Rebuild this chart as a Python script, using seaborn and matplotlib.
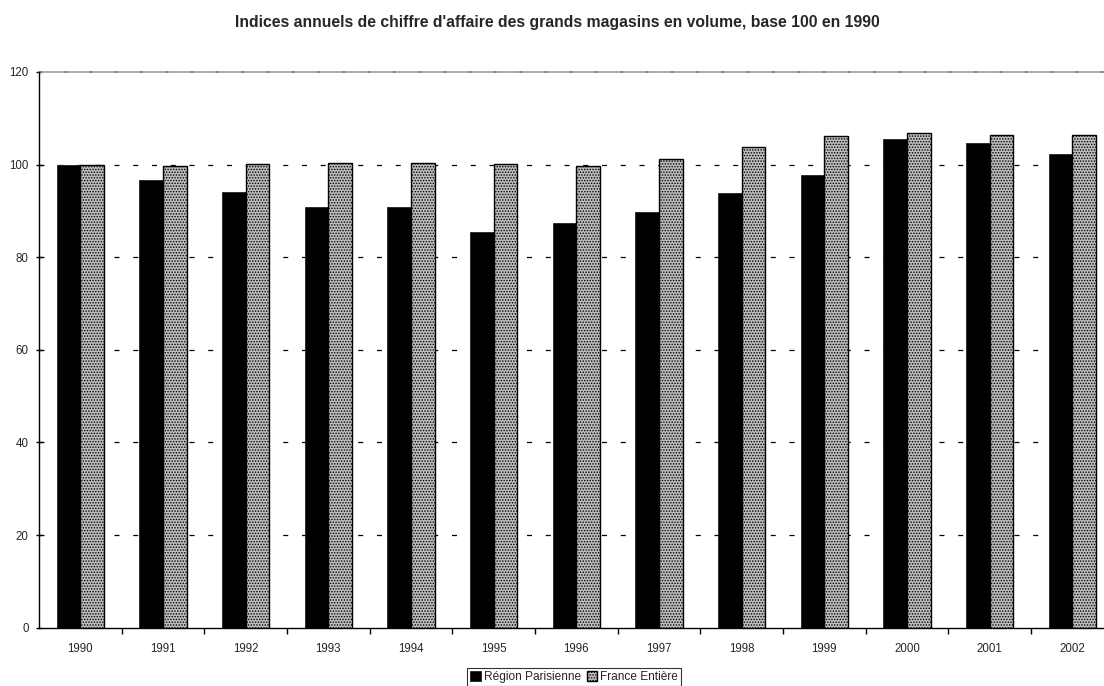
import matplotlib
matplotlib.use("Agg")
import matplotlib.pyplot as plt
import seaborn as sns
import pandas as pd
import numpy as np

# Annual department-store sales indices (volume), base 100 in 1990
annees = ["1990", "1991", "1992", "1993", "1994", "1995", "1996",
          "1997", "1998", "1999", "2000", "2001", "2002"]
region_parisienne = [100.0, 96.6, 94.1, 90.8, 90.8, 85.5, 87.3,
                     89.8, 93.9, 97.8, 105.5, 104.7, 102.3]
france_entiere = [100.0, 99.7, 100.2, 100.3, 100.4, 100.1, 99.8,
                  101.3, 103.7, 106.2, 106.8, 106.4, 106.3]
series = ["Région Parisienne", "France Entière"]
y_ticks = [0, 20, 40, 60, 80, 100, 120]

df = pd.DataFrame({
    "annee": annees * 2,
    "indice": region_parisienne + france_entiere,
    "serie": [series[0]] * len(annees) + [series[1]] * len(annees),
})

sns.set_style("ticks")
plt.rcParams["font.family"] = ["Liberation Sans", "DejaVu Sans"]
plt.rcParams["hatch.color"] = "black"
plt.rcParams["hatch.linewidth"] = 0.7

fig = plt.figure(figsize=(11.04, 6.86), dpi=100)
# plot area runs slightly past the right edge of the figure
ax = fig.add_axes([39 / 1104, 1 - 627.7 / 686, 1074.6 / 1104, 555.7 / 686])

sns.barplot(data=df, x="annee", y="indice", hue="serie", order=annees,
            hue_order=series, palette=["black", "#bdbdbd"], width=0.57,
            saturation=1, dodge=True, legend=False, ax=ax, zorder=3)

# style each series
for patch in ax.containers[0]:
    patch.set_edgecolor("#222222")
    patch.set_linewidth(0.6)
for patch in ax.containers[1]:
    patch.set_facecolor("#bdbdbd")
    patch.set_edgecolor("black")
    patch.set_linewidth(1.0)
    patch.set_hatch("......")

ax.set_ylim(0, 120)
ax.set_xlim(-0.5, len(annees) - 0.5)
ax.set_yticks(y_ticks)
ax.set_yticklabels([str(v) for v in y_ticks], fontsize=8.3)
ax.set_xlabel("")
ax.set_ylabel("")

# horizontal gridlines
ax.set_axisbelow(True)
for v in y_ticks[1:-1]:
    ax.axhline(v, color="black", lw=0.9, linestyle=(0, (4, 11)), zorder=1)
ax.axhline(y_ticks[-1], color="#a5a5a5", lw=1.3, zorder=1, clip_on=False)
ax.axhline(y_ticks[-1], color="#808080", lw=1.3, linestyle=(0, (1.5, 12.5)),
           zorder=1, clip_on=False)

# category ticks on the boundaries, labels centred under the groups
ax.set_xticks(np.arange(len(annees)))
ax.set_xticklabels(annees, fontsize=8.3)
ax.set_xticks(np.arange(len(annees)) + 0.5, minor=True)
ax.tick_params(axis="x", which="major", length=0, pad=11)
ax.tick_params(axis="x", which="minor", length=4, width=1, color="black",
               direction="out")
ax.tick_params(axis="y", length=5, width=1, color="black", direction="inout",
               pad=5)

for side in ("top", "right"):
    ax.spines[side].set_visible(False)
for side in ("left", "bottom"):
    ax.spines[side].set_color("black")
    ax.spines[side].set_linewidth(1.0)

fig.text(557 / 1104, 1 - 22 / 686,
         "Indices annuels de chiffre d'affaire des grands magasins en volume, base 100 en 1990",
         ha="center", va="center", fontsize=11.3, fontweight="bold")

leg = fig.legend(handles=[ax.containers[0][0], ax.containers[1][0]],
                 labels=series, loc="upper center",
                 bbox_to_anchor=(574 / 1104, 1 - 668 / 686), ncol=2,
                 fontsize=8.6, frameon=True, fancybox=False, edgecolor="black",
                 handlelength=0.85, handleheight=0.85, handletextpad=0.25,
                 columnspacing=0.5, borderpad=0.25, borderaxespad=0)
leg.get_frame().set_linewidth(0.8)

fig.savefig("out.png", dpi=100)
